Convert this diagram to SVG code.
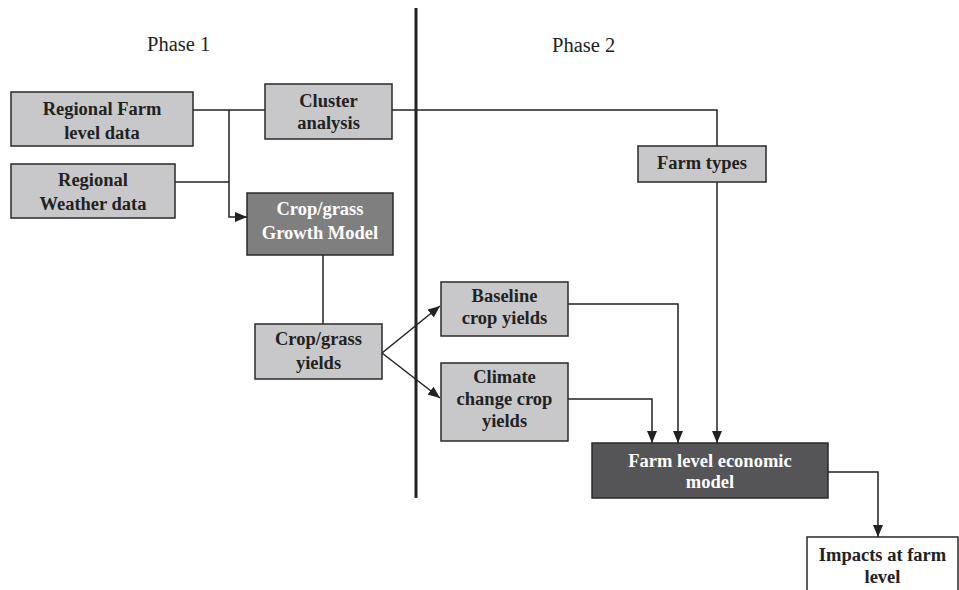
<svg xmlns="http://www.w3.org/2000/svg" width="959" height="590" viewBox="0 0 959 590">
<style>
.box{fill:#c8c8ca;stroke:#2a2a2a;stroke-width:1.5}
.dark{fill:#7f7f7f;stroke:#2a2a2a;stroke-width:1.5}
.darker{fill:#555557;stroke:#2a2a2a;stroke-width:1.5}
.white{fill:#ffffff;stroke:#2a2a2a;stroke-width:1.5}
text{font-family:'Liberation Serif','Times New Roman','DejaVu Serif',serif}
.t{font-weight:bold;font-size:18.5px;fill:#222;text-anchor:middle}
.tw{font-weight:bold;font-size:18.5px;fill:#ffffff;text-anchor:middle}
.ph{font-size:20.5px;fill:#222}
.c{fill:none;stroke:#222;stroke-width:1.5}
</style>
<defs>
<marker id="ah" viewBox="0 0 12 10" refX="12" refY="5" markerWidth="12" markerHeight="10" markerUnits="userSpaceOnUse" orient="auto">
<path d="M0,0 L12,5 L0,10 Z" fill="#222"/>
</marker>
</defs>
<rect width="959" height="590" fill="#ffffff"/>
<text class="ph" x="147" y="51">Phase 1</text>
<text class="ph" x="552" y="52">Phase 2</text>
<line x1="416" y1="8" x2="416" y2="498" stroke="#222" stroke-width="3"/>
<g id="connectors">
<path class="c" d="M193,110 H265"/>
<path class="c" d="M175,182 H229"/>
<path class="c" d="M229,110 V217 H247" marker-end="url(#ah)"/>
<path class="c" d="M392,110 H717 V146"/>
<path class="c" d="M717,182 V443" marker-end="url(#ah)"/>
<path class="c" d="M323,255 V324"/>
<path class="c" d="M382,353 L440,306" marker-end="url(#ah)"/>
<path class="c" d="M382,353 L440,398" marker-end="url(#ah)"/>
<path class="c" d="M568,304 H678 V443" marker-end="url(#ah)"/>
<path class="c" d="M568,399 H652 V443" marker-end="url(#ah)"/>
<path class="c" d="M828,472 H878 V537" marker-end="url(#ah)"/>
</g>
<g id="regional-farm">
<rect class="box" x="11" y="92" width="182" height="54"/>
<text class="t" x="102" y="115">Regional Farm</text>
<text class="t" x="102" y="139">level data</text>
</g>
<g id="cluster">
<rect class="box" x="265" y="84" width="127" height="55"/>
<text class="t" x="328.5" y="107">Cluster</text>
<text class="t" x="328.5" y="129">analysis</text>
</g>
<g id="regional-weather">
<rect class="box" x="11" y="164" width="164" height="54"/>
<text class="t" x="93" y="186">Regional</text>
<text class="t" x="93" y="210">Weather data</text>
</g>
<g id="growth-model">
<rect class="dark" x="247" y="193" width="146" height="62"/>
<text class="tw" x="320" y="215">Crop/grass</text>
<text class="tw" x="320" y="239">Growth Model</text>
</g>
<g id="crop-yields">
<rect class="box" x="255" y="324" width="127" height="55"/>
<text class="t" x="318.5" y="345">Crop/grass</text>
<text class="t" x="318.5" y="369">yields</text>
</g>
<g id="baseline">
<rect class="box" x="441" y="282" width="127" height="54"/>
<text class="t" x="504.5" y="302">Baseline</text>
<text class="t" x="504.5" y="324">crop yields</text>
</g>
<g id="climate">
<rect class="box" x="441" y="363" width="127" height="78"/>
<text class="t" x="504.5" y="383">Climate</text>
<text class="t" x="504.5" y="405">change crop</text>
<text class="t" x="504.5" y="427">yields</text>
</g>
<g id="farm-types">
<rect class="box" x="638" y="146" width="128" height="36"/>
<text class="t" x="702" y="169">Farm types</text>
</g>
<g id="economic-model">
<rect class="darker" x="592" y="443" width="236" height="55"/>
<text class="tw" x="710" y="467">Farm level economic</text>
<text class="tw" x="710" y="488">model</text>
</g>
<g id="impacts">
<rect class="white" x="807" y="537" width="151" height="70"/>
<text class="t" x="882.5" y="561">Impacts at farm</text>
<text class="t" x="882.5" y="583">level</text>
</g>
</svg>
